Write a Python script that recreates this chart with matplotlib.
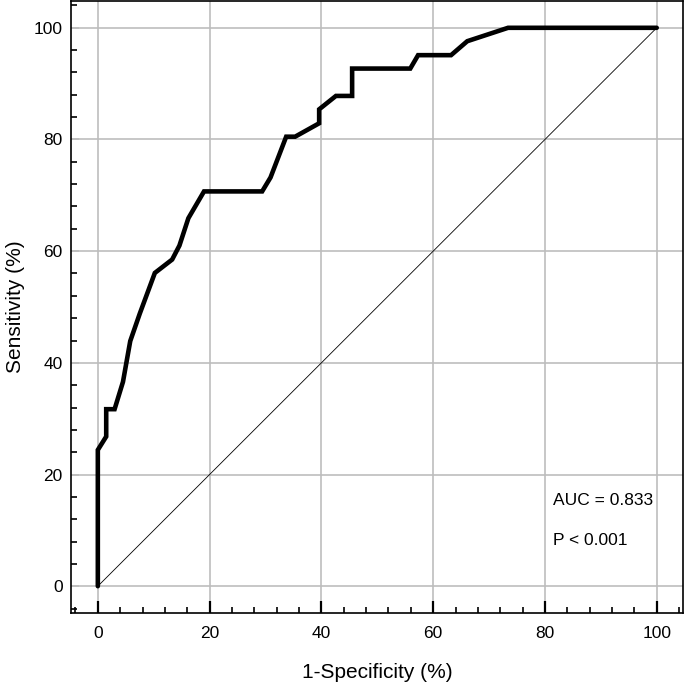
import matplotlib
matplotlib.use("Agg")
import matplotlib.pyplot as plt
from matplotlib.ticker import MultipleLocator

plt.rcParams['font.family'] = ['Liberation Sans', 'DejaVu Sans']

fpr = [0, 0, 1.5, 1.5, 3.0, 4.5, 5.8, 7.5, 10.2, 13.3, 14.6, 16.2, 19.0, 29.4, 30.9, 33.7,
       35.3, 39.6, 39.6, 42.6, 45.5, 45.5, 55.9, 57.3, 63.2, 66.1, 73.4, 100]
tpr = [0, 24.4, 26.8, 31.7, 31.7, 36.6, 43.9, 48.8, 56.1, 58.5, 61.0, 65.9, 70.7, 70.7, 73.2, 80.5,
       80.5, 82.9, 85.4, 87.8, 87.8, 92.7, 92.7, 95.1, 95.1, 97.6, 100, 100]
diag = [0, 100]
auc_text = "AUC = 0.833"
p_text = "P < 0.001"

fig = plt.figure(figsize=(6.85, 6.83), dpi=100)
ax = fig.add_axes([71/685, 70/683, 612/685, 612/683])

ax.plot(diag, diag, color='black', lw=0.6)
ax.plot(fpr, tpr, color='black', lw=3.3, solid_joinstyle='miter', solid_capstyle='round')

ax.set_xlim(-4.8, 104.7)
ax.set_ylim(-4.8, 104.8)
ax.xaxis.set_major_locator(MultipleLocator(20))
ax.yaxis.set_major_locator(MultipleLocator(20))
ax.xaxis.set_minor_locator(MultipleLocator(4))
ax.yaxis.set_minor_locator(MultipleLocator(4))
ax.grid(True, which='major', color='#bdbdbd', lw=1.2)
ax.set_axisbelow(True)

ax.tick_params(axis='x', which='major', direction='in', length=9, width=1.6, color='black',
               pad=9, labelsize=12.5)
ax.tick_params(axis='x', which='minor', direction='in', length=4, width=1.2, color='black')
ax.tick_params(axis='y', which='major', direction='in', length=6, width=1.2, color='#bdbdbd',
               pad=6, labelsize=12.5)
ax.tick_params(axis='y', which='minor', direction='in', length=4, width=1.2, color='black')
for s in ax.spines.values():
    s.set_linewidth(1.2)

ax.set_xlabel("1-Specificity (%)", fontsize=15, labelpad=16)
ax.set_ylabel("Sensitivity (%)", fontsize=15, labelpad=6)

ax.text(81.4, 15.4, auc_text, fontsize=12.5, va='center', ha='left')
ax.text(81.4, 8.2, p_text, fontsize=12.5, va='center', ha='left')

fig.savefig("out.png", dpi=100)
